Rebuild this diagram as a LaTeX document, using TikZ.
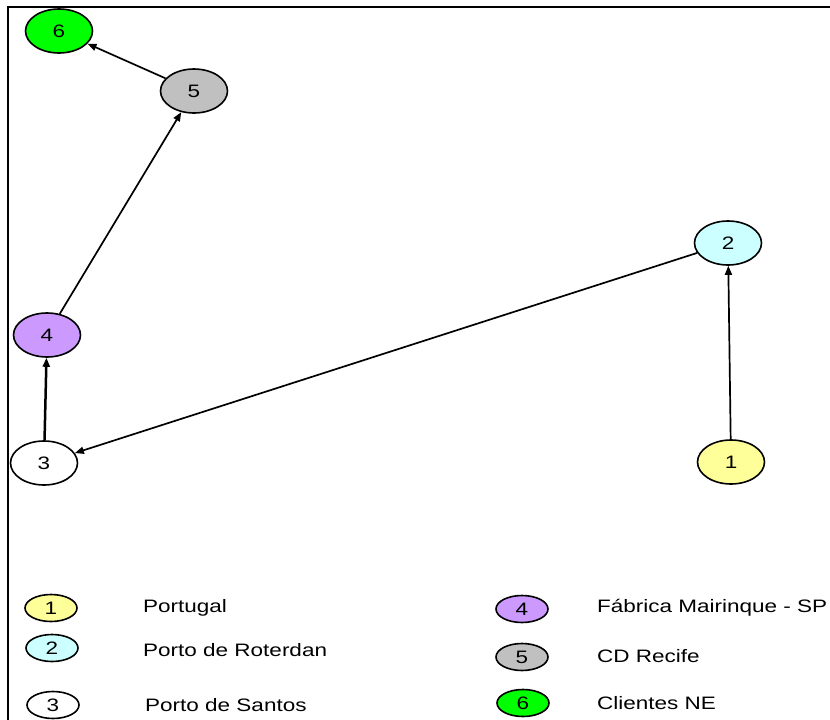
\documentclass[tikz,border=0pt]{standalone}
\usepackage{fontspec}
\setmainfont[FakeStretch=1.25]{Liberation Sans}
\usetikzlibrary{shapes.geometric,arrows.meta}
\definecolor{cgreen}{HTML}{00FF00}
\definecolor{cgray}{HTML}{C0C0C0}
\definecolor{cpurple}{HTML}{CC99FF}
\definecolor{ccyan}{HTML}{CCFFFF}
\definecolor{cyellow}{HTML}{FFFF99}
\begin{document}
\begin{tikzpicture}[x=1pt,y=-1pt,
  place/.style={ellipse,draw=black,line width=1.6pt,inner sep=0pt,minimum width=67pt,minimum height=44pt,font=\fontsize{18}{18}\selectfont},
  keyshape/.style={ellipse,draw=black,line width=1.6pt,inner sep=0pt,minimum width=52pt,minimum height=27pt,font=\fontsize{18}{18}\selectfont},
  keytext/.style={anchor=west,inner sep=0pt,font=\fontsize{18}{18}\selectfont},
  flow/.style={draw=black,line width=1.7pt,-{Triangle[length=9pt,width=7pt]}}]
\useasboundingbox (0,0) rectangle (830,720);
\draw[line width=1.8pt] (830,7) -- (8,7) -- (8,720);
% main nodes
\node[place,fill=cgreen] (n6) at (59,31) {6};
\node[place,fill=cgray] (n5) at (194,91) {5};
\node[place,fill=cpurple] (n4) at (47,335) {4};
\node[place,fill=white] (n3) at (44,463) {3};
\node[place,fill=ccyan] (n2) at (728,243) {2};
\node[place,fill=cyellow] (n1) at (731,462) {1};
% connectors
\draw[flow] (n1) -- (n2);
\draw[flow] (n2) -- (n3);
\draw[flow,line width=2.5pt] (n3) -- (n4);
\draw[flow] (n4) -- (n5);
\draw[flow] (n5) -- (n6);
% legend
\node[keyshape,fill=cyellow] (k1) at (51,608) {1};
\node[keyshape,fill=ccyan] (k2) at (52,648) {2};
\node[keyshape,fill=white] (k3) at (53,705) {3};
\node[keyshape,fill=cpurple] (k4) at (522,609) {4};
\node[keyshape,fill=cgray] (k5) at (522,657) {5};
\node[keyshape,fill=cgreen] (k6) at (523,703) {6};
\node[keytext] (t1) at (143,608) {Portugal};
\node[keytext] (t2) at (143,650) {Porto de Roterdan};
\node[keytext] (t3) at (145,705) {Porto de Santos};
\node[keytext] (t4) at (597,608) {Fábrica Mairinque - SP};
\node[keytext] (t5) at (597,656) {CD Recife};
\node[keytext] (t6) at (597,703) {Clientes NE};
\end{tikzpicture}
\end{document}
